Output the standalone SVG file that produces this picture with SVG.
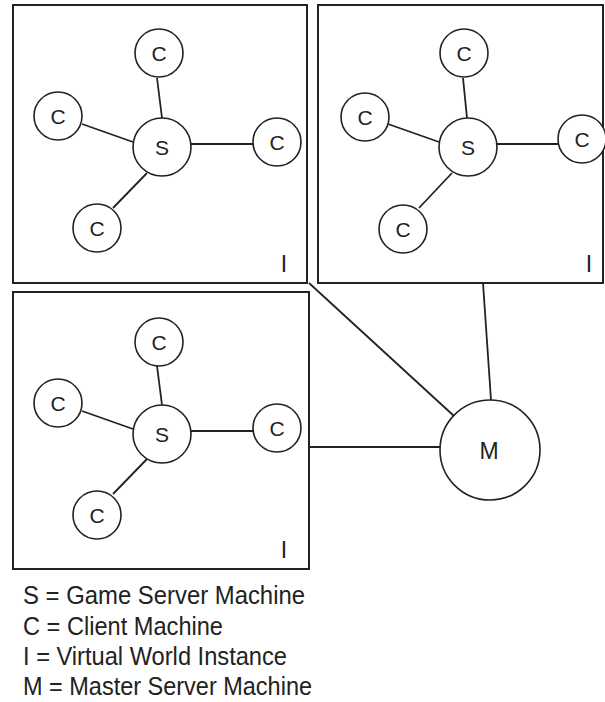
<svg xmlns="http://www.w3.org/2000/svg" width="605" height="702" viewBox="0 0 605 702">
<style>
.box{fill:none;stroke:#222;stroke-width:2}
.node{fill:#fff;stroke:#222;stroke-width:1.6}
.ln{stroke:#222;stroke-width:1.8;fill:none}
.lbl{font-family:"Liberation Sans",Arial,sans-serif;font-size:21px;fill:#222;text-anchor:middle}
.big{font-size:23px}
.inst{font-family:"Liberation Sans",Arial,sans-serif;font-size:23px;fill:#222;text-anchor:middle}
.leg{font-family:"Liberation Sans",Arial,sans-serif;font-size:25px;fill:#222}
</style>
<rect width="605" height="702" fill="#fff"/>
<g id="connectors">
  <line class="ln" x1="157" y1="78" x2="162" y2="118"/>
  <line class="ln" x1="82" y1="124" x2="133" y2="142"/>
  <line class="ln" x1="191" y1="144" x2="253" y2="144"/>
  <line class="ln" x1="147" y1="173" x2="113" y2="208"/>
  <line class="ln" x1="463" y1="78" x2="467" y2="118"/>
  <line class="ln" x1="388" y1="124" x2="439" y2="142"/>
  <line class="ln" x1="497" y1="144" x2="558" y2="144"/>
  <line class="ln" x1="452" y1="173" x2="419" y2="208"/>
  <line class="ln" x1="157" y1="366" x2="162" y2="405"/>
  <line class="ln" x1="82" y1="411" x2="133" y2="429"/>
  <line class="ln" x1="191" y1="431" x2="253" y2="431"/>
  <line class="ln" x1="147" y1="459" x2="113" y2="494"/>
  <line class="ln" x1="309" y1="283" x2="454" y2="416"/>
  <line class="ln" x1="483" y1="283" x2="491" y2="400"/>
  <line class="ln" x1="309" y1="447" x2="440" y2="447"/>
</g>
<g id="instance1">
  <rect class="box" x="13" y="5" width="294" height="278"/>
  <text class="inst" x="284" y="272">I</text>
</g>
<g id="s1"><circle class="node" cx="162" cy="147" r="29"/><text class="lbl" x="162" y="155">S</text></g>
<g id="c1a"><circle class="node" cx="159" cy="53" r="24"/><text class="lbl" x="159" y="61">C</text></g>
<g id="c1b"><circle class="node" cx="58" cy="116" r="24"/><text class="lbl" x="58" y="124">C</text></g>
<g id="c1c"><circle class="node" cx="277" cy="142" r="24"/><text class="lbl" x="277" y="150">C</text></g>
<g id="c1d"><circle class="node" cx="97" cy="228" r="24"/><text class="lbl" x="97" y="236">C</text></g>
<g id="instance2">
  <rect class="box" x="318" y="5" width="285" height="278"/>
  <text class="inst" x="589" y="272">I</text>
</g>
<g id="s2"><circle class="node" cx="468" cy="147" r="29"/><text class="lbl" x="468" y="155">S</text></g>
<g id="c2a"><circle class="node" cx="464" cy="53" r="24"/><text class="lbl" x="464" y="61">C</text></g>
<g id="c2b"><circle class="node" cx="365" cy="117" r="24"/><text class="lbl" x="365" y="125">C</text></g>
<g id="c2c"><circle class="node" cx="582" cy="139" r="24"/><text class="lbl" x="582" y="147">C</text></g>
<g id="c2d"><circle class="node" cx="403" cy="229" r="24"/><text class="lbl" x="403" y="237">C</text></g>
<g id="instance3">
  <rect class="box" x="13" y="292" width="296" height="277"/>
  <text class="inst" x="284" y="558">I</text>
</g>
<g id="s3"><circle class="node" cx="162" cy="434" r="29"/><text class="lbl" x="162" y="442">S</text></g>
<g id="c3a"><circle class="node" cx="159" cy="342" r="24"/><text class="lbl" x="159" y="350">C</text></g>
<g id="c3b"><circle class="node" cx="58" cy="403" r="24"/><text class="lbl" x="58" y="411">C</text></g>
<g id="c3c"><circle class="node" cx="277" cy="428" r="24"/><text class="lbl" x="277" y="436">C</text></g>
<g id="c3d"><circle class="node" cx="97" cy="515" r="24"/><text class="lbl" x="97" y="523">C</text></g>
<g id="master"><circle class="node" cx="490" cy="450" r="50"/><text class="lbl big" x="489" y="459">M</text></g>
<g id="legend">
  <text class="leg" x="23" y="604" textLength="282" lengthAdjust="spacingAndGlyphs">S = Game Server Machine</text>
  <text class="leg" x="23" y="635" textLength="200" lengthAdjust="spacingAndGlyphs">C = Client Machine</text>
  <text class="leg" x="23" y="665" textLength="264" lengthAdjust="spacingAndGlyphs">I = Virtual World Instance</text>
  <text class="leg" x="23" y="695" textLength="289" lengthAdjust="spacingAndGlyphs">M = Master Server Machine</text>
</g>
</svg>
